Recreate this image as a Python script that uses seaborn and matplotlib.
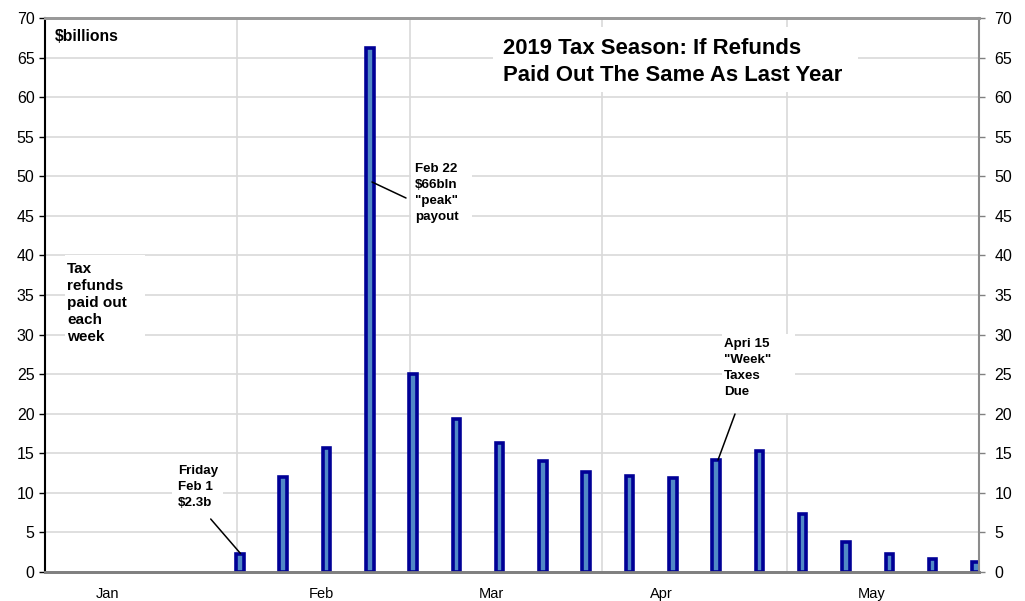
import matplotlib
matplotlib.use("Agg")
import matplotlib.pyplot as plt
from matplotlib.patches import Rectangle
import seaborn as sns
import pandas as pd
import numpy as np

# ---------------- data ----------------
week_dates = ["2019-02-01", "2019-02-08", "2019-02-15", "2019-02-22", "2019-03-01",
              "2019-03-08", "2019-03-15", "2019-03-22", "2019-03-29", "2019-04-05",
              "2019-04-12", "2019-04-19", "2019-04-26", "2019-05-03", "2019-05-10",
              "2019-05-17", "2019-05-24", "2019-05-31"]
refunds = [2.3, 12.0, 15.7, 66.2, 25.0, 19.3, 16.3, 14.0, 12.6, 12.1,
           11.9, 14.2, 15.3, 7.3, 3.8, 2.3, 1.6, 1.3]
month_labels = ["Jan", "Feb", "Mar", "Apr", "May"]
month_starts = ["2019-02-01", "2019-03-01", "2019-04-01", "2019-05-01"]
y_ticks = list(range(0, 75, 5))

title_text = "2019 Tax Season: If Refunds\nPaid Out The Same As Last Year"
units_text = "$billions"
side_text = "Tax\nrefunds\npaid out\neach\nweek"
note_feb1 = "Friday\nFeb 1\n$2.3b"
note_feb22 = "Feb 22\n$66bln\n\"peak\"\npayout"
note_apr15 = "Apri 15\n\"Week\"\nTaxes\nDue"

# ---------------- helpers ----------------
origin = pd.Timestamp("2019-01-01")
def day_num(d):
    return (pd.Timestamp(d) - origin).days

df = pd.DataFrame({"day": [day_num(d) + 0.5 for d in week_dates], "refunds": refunds})

sns.set_style("white")
plt.rcParams["font.family"] = ["Liberation Sans", "DejaVu Sans"]
plt.rcParams["text.color"] = "black"

W, H = 1025, 601
fig = plt.figure(figsize=(W / 100, H / 100), dpi=100)
L, R, T, B = 45, 979, 18, 572
ax = fig.add_axes([L / W, 1 - B / H, (R - L) / W, (B - T) / H])

XMIN, XMAX = 0, day_num("2019-06-01")
YMIN, YMAX = 0, 70

def px(x, y):
    """reference pixel -> data coords (annotation layout only)"""
    return (XMIN + (x - L) / (R - L) * (XMAX - XMIN),
            YMIN + (B - y) / (B - T) * (YMAX - YMIN))

# ---------------- bars ----------------
face = "#5189c6"
edge = "#000096"
sns.barplot(data=df, x="day", y="refunds", native_scale=True, orient="x",
            width=1.22 / 7, color=face, edgecolor=edge, linewidth=2.6,
            saturation=1, errorbar=None, ax=ax, zorder=3)

ax.set_xlim(XMIN, XMAX)
ax.set_ylim(YMIN, YMAX)
ax.set_xlabel("")
ax.set_ylabel("")

# grid
ax.set_axisbelow(True)
ax.set_yticks(y_ticks)
ax.set_xticks([day_num(d) for d in month_starts])
ax.set_xticklabels([])
ax.grid(True, which="major", axis="both", color="#d9d9d9", linewidth=1.2)

# month labels as minor ticks
label_pos = [px(x, 0)[0] for x in (108, 321, 491, 661, 872)]
ax.set_xticks(label_pos, minor=True)
ax.set_xticklabels(month_labels, minor=True)
ax.tick_params(axis="x", which="both", length=0)
ax.tick_params(axis="x", which="minor", labelsize=10.5, pad=11,
               colors="black", labelcolor="black")

# left y axis
ax.tick_params(axis="y", which="major", left=True, direction="out", length=4.5,
               width=1.0, color="black", pad=3, labelsize=11.5, labelcolor="black")

# right y axis
ax2 = ax.twinx()
ax2.set_ylim(YMIN, YMAX)
ax2.set_yticks(y_ticks)
ax2.tick_params(axis="y", right=True, direction="out", length=4.5, width=1.0,
                color="#808080", pad=6.5, labelsize=11.5, labelcolor="black")
ax2.grid(False)

for a in (ax, ax2):
    a.spines["left"].set_color("black")
    a.spines["left"].set_linewidth(1.5)
    a.spines["right"].set_color("#8c8c8c")
    a.spines["right"].set_linewidth(1.5)
    a.spines["top"].set_color("#999999")
    a.spines["top"].set_linewidth(2)
    a.spines["bottom"].set_color("#808080")
    a.spines["bottom"].set_linewidth(2)
    for s in a.spines.values():
        s.set_visible(True)
ax2.spines["left"].set_visible(False)
ax.spines["right"].set_visible(False)

# ---------------- white boxes ----------------
def white_box(x0, y0, x1, y1):
    (dx0, dy0), (dx1, dy1) = px(x0, y1), px(x1, y0)
    ax.add_patch(Rectangle((dx0, dy0), dx1 - dx0, dy1 - dy0, facecolor="white",
                           edgecolor="none", zorder=2))

white_box(493, 27, 858, 92)
white_box(411, 152, 472, 232)
white_box(722, 334, 795, 413)
white_box(65, 255, 145, 352)
white_box(172, 457, 223, 515)

# ---------------- texts ----------------
def put(x, y, s, size, ls=1.2):
    dx, dy = px(x, y)
    ax.text(dx, dy, s, ha="left", va="top", fontsize=size, fontweight="bold",
            linespacing=ls, color="black", zorder=5)

put(503, 38, title_text, 15.9, 1.4)
put(55, 29, units_text, 11.3)
put(67, 262, side_text, 11, 1.28)
put(178, 465, note_feb1, 9.6, 1.43)
put(415, 163, note_feb22, 9.6, 1.43)
put(724, 338, note_apr15, 9.6, 1.43)

# connector lines
def connector(x0, y0, x1, y1):
    a0, b0 = px(x0, y0)
    a1, b1 = px(x1, y1)
    ax.plot([a0, a1], [b0, b1], color="black", linewidth=1.1, zorder=4)

connector(210.7, 519, 240.5, 553.5)
connector(406, 198, 372, 182)
connector(735, 414, 718, 460)

fig.savefig("out.png", dpi=100)
